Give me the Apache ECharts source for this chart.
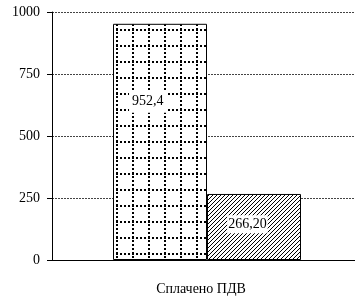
<!DOCTYPE html>
<html>
<head>
<meta charset="utf-8">
<script src="https://cdn.jsdelivr.net/npm/echarts@6/dist/echarts.min.js"></script>
<style>
  html, body { margin: 0; padding: 0; background: #fff; }
  #chart { width: 355px; height: 298px; }
</style>
</head>
<body>
<div id="chart"></div>
<script>
const categories = ['Сплачено ПДВ'];
const paidValues = [952.4];
const paidLabels = ['952,4'];
const otherValues = [266.2];
const otherLabels = ['266,20'];
const yTicks = [0, 250, 500, 750, 1000];

// dotted grid fill
function gridPattern() {
    const c = document.createElement('canvas');
    c.width = 16; c.height = 16;
    const ctx = c.getContext('2d');
    ctx.fillStyle = '#fff';
    ctx.fillRect(0, 0, 16, 16);
    ctx.fillStyle = '#000';
    for (let i = 0; i < 16; i += 4) {
        ctx.fillRect(i, 13, 2, 2);
        ctx.fillRect(4, i, 2, 2);
    }
    return c;
}

// diagonal hatch fill
function hatchPattern() {
    const c = document.createElement('canvas');
    c.width = 4; c.height = 4;
    const ctx = c.getContext('2d');
    ctx.fillStyle = '#fff';
    ctx.fillRect(0, 0, 4, 4);
    ctx.strokeStyle = '#000';
    ctx.lineWidth = 1;
    ctx.beginPath();
    ctx.moveTo(-1, 5); ctx.lineTo(5, -1);
    ctx.moveTo(-1, 1); ctx.lineTo(1, -1);
    ctx.moveTo(3, 5); ctx.lineTo(5, 3);
    ctx.stroke();
    return c;
}

const font = '"Liberation Serif", "DejaVu Serif", serif';
const chart = echarts.init(document.getElementById('chart'));
chart.setOption({
    animation: false,
    grid: { left: 52, width: 310, top: 12, bottom: 38, containLabel: false, outerBoundsMode: 'none' },
    xAxis: {
        type: 'category',
        data: categories,
        axisLine: { lineStyle: { color: '#000' } },
        axisTick: { show: false },
        axisLabel: { color: '#000', fontFamily: font, fontSize: 14, margin: 22, padding: [0, 12, 0, 0] }
    },
    yAxis: {
        type: 'value',
        min: yTicks[0],
        max: yTicks[yTicks.length - 1],
        interval: 250,
        axisLine: { show: true, lineStyle: { color: '#000' } },
        axisTick: { show: true, length: 5, lineStyle: { color: '#000' } },
        axisLabel: { color: '#000', fontFamily: font, fontSize: 14, margin: 12, formatter: v => String(v) },
        splitLine: { lineStyle: { color: '#444', type: [2, 1], width: 1 } }
    },
    series: [
        {
            type: 'bar',
            data: paidValues,
            barWidth: 94,
            barGap: '0%',
            itemStyle: {
                color: { image: gridPattern(), repeat: 'repeat' },
                borderColor: '#000',
                borderWidth: 1
            },
            label: {
                show: true,
                position: ['37%', '33%'],
                align: 'center',
                verticalAlign: 'middle',
                formatter: p => paidLabels[p.dataIndex],
                color: '#000',
                fontFamily: font,
                fontSize: 14,
                backgroundColor: '#fff',
                padding: [4, 3]
            }
        },
        {
            type: 'bar',
            data: otherValues,
            barWidth: 94,
            itemStyle: {
                color: { image: hatchPattern(), repeat: 'repeat' },
                borderColor: '#000',
                borderWidth: 1
            },
            label: {
                show: true,
                position: ['43%', '46%'],
                align: 'center',
                verticalAlign: 'middle',
                formatter: p => otherLabels[p.dataIndex],
                color: '#000',
                fontFamily: font,
                fontSize: 14,
                backgroundColor: '#fff',
                padding: [2, 1]
            }
        }
    ]
});
</script>
</body>
</html>
